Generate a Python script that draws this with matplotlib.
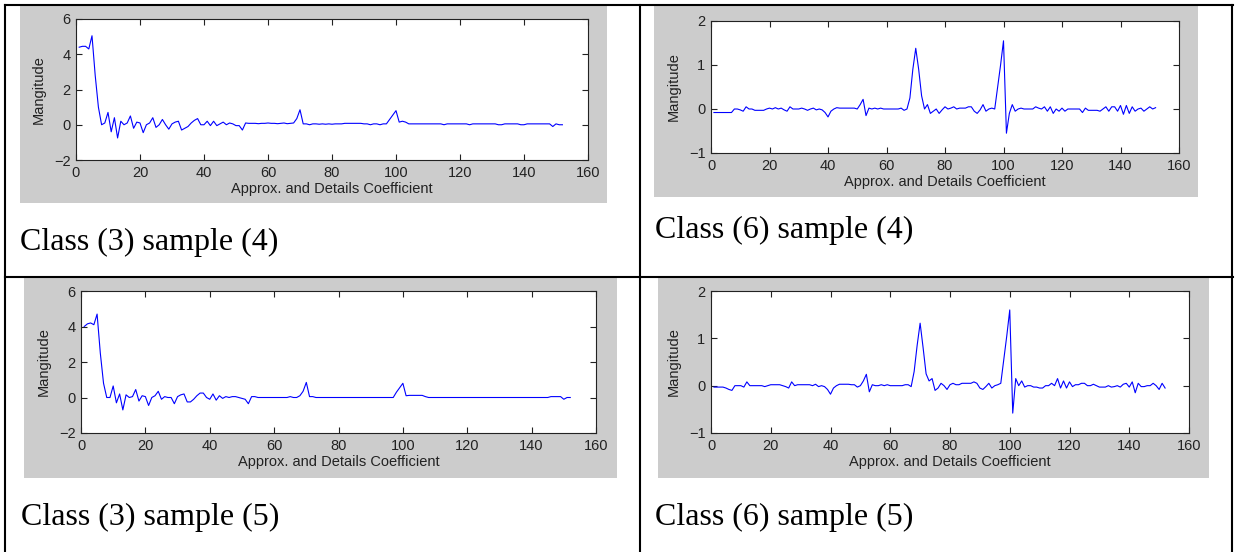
import matplotlib
matplotlib.use("Agg")
import matplotlib.pyplot as plt
from matplotlib.lines import Line2D
from matplotlib.patches import Rectangle

W, H = 1235, 552

# coefficient index (1..152)
coef_idx = list(range(1, 153))

class3_sample4 = [
    4.40, 4.45, 4.45, 4.30, 5.05, 2.80, 1.00, 0.00, 0.10, 0.70,
    -0.40, 0.40, -0.75, 0.20, 0.00, 0.10, 0.50, -0.20, 0.15, 0.10,
    -0.45, 0.00, 0.10, 0.40, -0.15, 0.00, 0.30, 0.00, -0.25, 0.05,
    0.15, 0.20, -0.30, -0.20, -0.10, 0.10, 0.25, 0.35, 0.00, 0.00,
    0.20, -0.05, 0.20, -0.05, 0.05, 0.15, 0.00, 0.10, 0.05, -0.05,
    -0.05, -0.30, 0.10, 0.08, 0.08, 0.08, 0.06, 0.08, 0.08, 0.10,
    0.08, 0.08, 0.06, 0.08, 0.10, 0.06, 0.08, 0.10, 0.35, 0.85,
    0.05, 0.05, 0.00, 0.05, 0.05, 0.03, 0.05, 0.03, 0.05, 0.03,
    0.05, 0.05, 0.05, 0.08, 0.08, 0.08, 0.08, 0.08, 0.08, 0.05,
    0.05, 0.00, 0.05, 0.05, 0.00, 0.05, 0.05, 0.30, 0.55, 0.80,
    0.15, 0.20, 0.15, 0.05, 0.05, 0.05, 0.05, 0.05, 0.05, 0.05,
    0.05, 0.05, 0.05, 0.05, 0.00, 0.05, 0.05, 0.05, 0.05, 0.05,
    0.05, 0.05, 0.00, 0.05, 0.05, 0.05, 0.05, 0.05, 0.05, 0.05,
    0.05, 0.00, 0.00, 0.05, 0.05, 0.05, 0.05, 0.05, 0.00, 0.00,
    0.05, 0.05, 0.05, 0.05, 0.05, 0.05, 0.05, 0.05, -0.10, 0.05,
    0.00, 0.00,
]

class6_sample4 = [
    -0.08, -0.08, -0.08, -0.08, -0.08, -0.08, -0.08, 0.00, 0.00, -0.02,
    -0.05, 0.05, 0.00, 0.00, -0.03, -0.03, -0.03, -0.03, 0.00, 0.02,
    0.00, 0.03, 0.00, 0.02, -0.02, -0.05, 0.05, 0.00, 0.00, 0.00,
    0.02, 0.00, -0.03, 0.00, 0.02, -0.02, 0.00, -0.02, -0.08, -0.18,
    -0.05, 0.00, 0.03, 0.02, 0.02, 0.02, 0.02, 0.02, 0.02, 0.00,
    0.10, 0.22, -0.15, 0.02, 0.00, 0.02, 0.00, 0.02, 0.00, 0.00,
    0.00, 0.00, 0.00, 0.00, 0.02, -0.03, 0.00, 0.25, 0.90, 1.38,
    0.90, 0.30, 0.00, 0.10, -0.10, -0.05, 0.00, -0.10, -0.02, 0.05,
    0.00, 0.02, 0.05, 0.00, 0.02, 0.02, 0.02, 0.05, 0.05, -0.05,
    -0.10, -0.02, 0.10, -0.05, 0.00, 0.02, 0.00, 0.50, 1.00, 1.55,
    -0.55, -0.10, 0.10, -0.05, 0.00, 0.02, 0.00, 0.00, 0.00, 0.00,
    0.05, 0.02, 0.00, 0.05, -0.05, 0.05, -0.10, 0.00, -0.05, 0.02,
    -0.05, 0.00, 0.00, 0.00, 0.00, 0.00, -0.08, 0.02, -0.03, -0.03,
    -0.03, -0.03, -0.05, 0.00, 0.05, -0.05, 0.05, 0.05, -0.05, 0.08,
    -0.12, 0.08, -0.10, 0.05, -0.05, 0.00, 0.02, -0.05, 0.00, 0.05,
    0.00, 0.03,
]

class3_sample5 = [
    4.00, 4.15, 4.20, 4.10, 4.70, 2.50, 0.80, 0.00, 0.00, 0.65,
    -0.30, 0.20, -0.70, 0.15, 0.00, 0.05, 0.45, -0.20, 0.10, 0.05,
    -0.45, 0.00, 0.10, 0.35, -0.10, 0.05, 0.00, 0.00, -0.35, 0.05,
    0.15, 0.20, -0.25, -0.25, -0.10, 0.10, 0.25, 0.25, 0.00, -0.10,
    0.20, -0.15, 0.10, -0.05, 0.05, 0.00, 0.05, 0.05, 0.00, -0.05,
    -0.10, -0.35, 0.05, 0.05, 0.00, 0.00, 0.00, 0.00, 0.00, 0.00,
    0.00, 0.00, 0.00, 0.00, 0.05, 0.00, 0.00, 0.10, 0.35, 0.85,
    0.05, 0.05, 0.00, 0.00, 0.00, 0.00, 0.00, 0.00, 0.00, 0.00,
    0.00, 0.00, 0.00, 0.00, 0.00, 0.00, 0.00, 0.00, 0.00, 0.00,
    0.00, 0.00, 0.00, 0.00, 0.00, 0.00, 0.00, 0.30, 0.55, 0.80,
    0.10, 0.12, 0.12, 0.12, 0.12, 0.12, 0.05, 0.00, 0.00, 0.00,
    0.00, 0.00, 0.00, 0.00, 0.00, 0.00, 0.00, 0.00, 0.00, 0.00,
    0.00, 0.00, 0.00, 0.00, 0.00, 0.00, 0.00, 0.00, 0.00, 0.00,
    0.00, 0.00, 0.00, 0.00, 0.00, 0.00, 0.00, 0.00, 0.00, 0.00,
    0.00, 0.00, 0.00, 0.00, 0.00, 0.05, 0.05, 0.05, 0.05, -0.10,
    0.00, 0.00,
]

class6_sample5 = [
    -0.03, -0.03, -0.03, -0.03, -0.05, -0.08, -0.10, 0.00, 0.00, 0.00,
    -0.03, 0.08, 0.00, 0.00, 0.00, 0.00, 0.00, -0.02, 0.00, 0.02,
    0.02, 0.02, 0.02, 0.00, -0.02, -0.05, 0.08, 0.00, 0.02, 0.02,
    0.02, 0.02, 0.02, 0.00, 0.03, -0.02, 0.00, -0.02, -0.08, -0.18,
    -0.05, 0.00, 0.03, 0.03, 0.03, 0.03, 0.02, 0.02, -0.03, 0.00,
    0.10, 0.24, -0.13, 0.02, 0.00, 0.00, 0.02, 0.00, 0.02, 0.00,
    0.00, 0.00, 0.00, 0.00, 0.02, 0.02, -0.02, 0.30, 0.85, 1.32,
    0.80, 0.25, 0.10, 0.15, -0.10, -0.05, 0.05, 0.00, -0.08, 0.02,
    0.05, 0.02, 0.02, 0.05, 0.05, 0.05, 0.05, 0.08, 0.05, -0.05,
    -0.08, -0.02, 0.05, -0.05, 0.00, 0.02, 0.05, 0.55, 1.05, 1.60,
    -0.58, 0.15, 0.00, 0.10, -0.03, 0.00, 0.00, -0.03, -0.03, -0.05,
    -0.05, 0.00, 0.00, 0.05, 0.00, 0.15, -0.05, 0.10, -0.05, 0.08,
    -0.02, 0.02, 0.02, 0.05, 0.05, 0.00, 0.00, 0.03, 0.00, -0.03,
    -0.03, -0.03, 0.00, -0.03, -0.02, 0.00, -0.03, 0.03, 0.05, -0.03,
    0.08, -0.15, 0.05, -0.02, -0.02, 0.00, 0.00, 0.05, 0.00, -0.08,
    0.05, -0.05,
]

captions = ["Class (3) sample (4)", "Class (6) sample (4)",
            "Class (3) sample (5)", "Class (6) sample (5)"]
y_ticks_c3 = [-2, 0, 2, 4, 6]
y_ticks_c6 = [-1, 0, 1, 2]
x_ticks = [0, 20, 40, 60, 80, 100, 120, 140, 160]


def fx(x):
    return x / W


def fy(y):
    return 1 - y / H


def draw_panel(fig, grey_box, ax_box, yvals, yticks, caption, cap_xy):
    """Grey MATLAB-style figure panel with one axes and a caption below."""
    gx0, gy0, gx1, gy1 = grey_box
    fig.add_artist(Rectangle((fx(gx0), fy(gy1)), fx(gx1 - gx0), (gy1 - gy0) / H,
                             transform=fig.transFigure, facecolor="#cccccc",
                             edgecolor="none", zorder=0))
    ax0, ay0, ax1, ay1 = ax_box
    ax = fig.add_axes([fx(ax0), fy(ay1), fx(ax1 - ax0), (ay1 - ay0) / H])
    ax.plot(coef_idx, yvals, color="#0000ff", linewidth=0.8)
    ax.set_xlim(0, 160)
    ax.set_ylim(yticks[0], yticks[-1])
    ax.set_xticks(x_ticks)
    ax.set_yticks(yticks)
    ax.tick_params(direction="in", length=4, width=0.8, top=True, right=True,
                   labelsize=10.5, colors="#222222", pad=4)
    for s in ax.spines.values():
        s.set_color("#222222")
        s.set_linewidth(0.8)
    ax.set_xlabel("Approx. and Details Coefficient", fontsize=10.5,
                  color="#222222", labelpad=2)
    ax.set_ylabel("Mangitude", fontsize=10.5, color="#222222", labelpad=6)
    fig.text(fx(cap_xy[0]), fy(cap_xy[1]), caption, fontsize=23,
             family="Liberation Serif", va="baseline", ha="left")
    return ax


plt.rcParams["font.family"] = ["Liberation Sans", "DejaVu Sans"]
fig = plt.figure(figsize=(W / 100, H / 100), dpi=100)

draw_panel(fig, (20, 6, 607, 203), (76, 19, 588, 160), class3_sample4,
           y_ticks_c3, captions[0], (20, 250))
draw_panel(fig, (654, 6, 1198, 197), (711, 21, 1179, 153), class6_sample4,
           y_ticks_c6, captions[1], (655, 238))
draw_panel(fig, (24, 278, 617, 478), (81, 291, 596, 433), class3_sample5,
           y_ticks_c3, captions[2], (21, 525))
draw_panel(fig, (658, 278, 1209, 478), (711, 291, 1189, 433), class6_sample5,
           y_ticks_c6, captions[3], (655, 525))

# table rules
rules = [((5, 5), (1233, 5)), ((5, 277), (1233, 277)),
         ((5, 5), (5, 552)), ((640, 5), (640, 552)), ((1232, 5), (1232, 552))]
for (x0, y0), (x1, y1) in rules:
    fig.add_artist(Line2D([fx(x0), fx(x1)], [fy(y0), fy(y1)],
                          transform=fig.transFigure, color="black", linewidth=1.5))

fig.savefig("out.png", dpi=100)
